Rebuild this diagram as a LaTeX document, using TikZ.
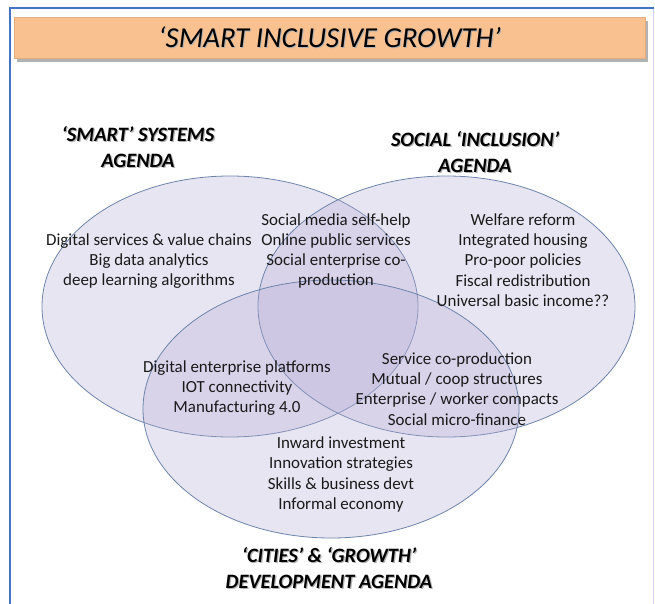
\documentclass[tikz,border=0pt]{standalone}
\usepackage{fontspec}
\setmainfont{Carlito}
\definecolor{frameblue}{RGB}{68,114,196}
\definecolor{peach}{RGB}{249,192,144}
\definecolor{vennfill}{RGB}{180,170,212}
\definecolor{vennline}{RGB}{108,132,170}
\definecolor{rightedge}{RGB}{215,210,240}
\tikzset{
  venn/.style={draw=vennline, line width=0.8bp, fill=vennfill, fill opacity=0.3},
  body/.style={inner sep=0pt, align=center, font=\fontsize{17}{20.3}\selectfont, text=black!90},
  heading/.style={inner sep=0pt, align=center, font=\fontsize{20.5}{25.5}\selectfont\bfseries\itshape},
  hshadow/.style={heading, text=black!30},
}
\begin{document}
\begin{tikzpicture}[x=1bp,y=-1bp]
\useasboundingbox (0,0) rectangle (655,604);
% frame
\draw[rightedge, line width=1.2bp] (653.5,8) -- (653.5,604);
\draw[frameblue, line width=2bp] (10,610) -- (10,8) -- (654,8);
% title box
\fill[black!30] (17,21) rectangle (648,62);
\node[fill=peach, draw=peach!90!black, line width=0.3bp, minimum width=631bp, minimum height=41bp, inner sep=0pt, anchor=north west] (title) at (14,17) {};
\node[inner sep=0pt, font=\fontsize{29}{34}\selectfont\itshape, text=black!30] (titleshadow) at ([shift={(1,1)}]title.center) {‘SMART INCLUSIVE GROWTH’};
\node[inner sep=0pt, font=\fontsize{29}{34}\selectfont\itshape] (titletext) at (title.center) {‘SMART INCLUSIVE GROWTH’};
% ellipses
\draw[venn] (230,306.5) ellipse [x radius=188bp, y radius=130.5bp];
\draw[venn] (446.5,306.5) ellipse [x radius=188.5bp, y radius=130.5bp];
\draw[venn] (331,409) ellipse [x radius=188bp, y radius=129bp];
% headings (with soft shadow)
\node[hshadow] (hsmarts) at (139.2,148.2) {‘SMART’ SYSTEMS\\AGENDA};
\node[hshadow] (hsocials) at (476.2,153.2) {SOCIAL ‘INCLUSION’\\AGENDA};
\node[hshadow] (hcitiess) at (330.2,569.2) {‘CITIES’ \& ‘GROWTH’\\DEVELOPMENT AGENDA};
\node[heading] (hsmart) at (138,147) {‘SMART’ SYSTEMS\\AGENDA};
\node[heading] (hsocial) at (475,152) {SOCIAL ‘INCLUSION’\\AGENDA};
\node[heading] (hcities) at (329,568) {‘CITIES’ \& ‘GROWTH’\\DEVELOPMENT AGENDA};
% texts
\node[body] (tsmart) at (149,261) {Digital services \& value chains\\Big data analytics\\deep learning algorithms};
\node[body] (tss) at (336,251) {Social media self-help\\Online public services\\Social enterprise co-\\production};
\node[body] (tsocial) at (523,260) {Welfare reform\\Integrated housing\\Pro-poor policies\\Fiscal redistribution\\Universal basic income??};
\node[body] (tsc) at (237,388) {Digital enterprise platforms\\IOT connectivity\\Manufacturing 4.0};
\node[body] (tsoc) at (457,389) {Service co-production\\Mutual / coop structures\\Enterprise / worker compacts\\Social micro-finance};
\node[body] (tcities) at (341,474.5) {Inward investment\\Innovation strategies\\Skills \& business devt\\Informal economy};
\end{tikzpicture}
\end{document}
